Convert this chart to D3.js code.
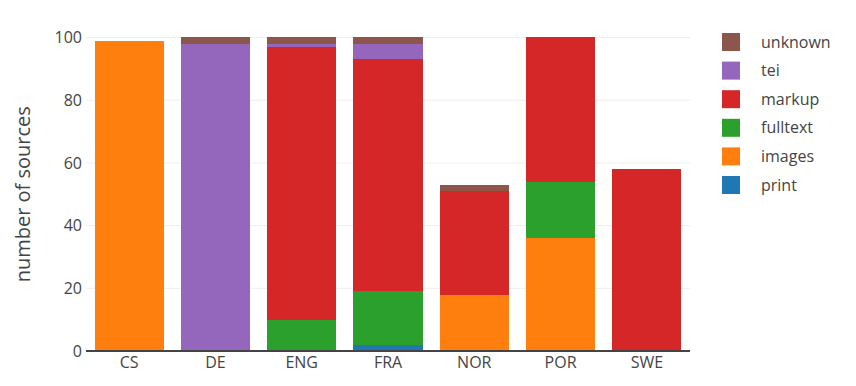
<!DOCTYPE html>
<html>
<head>
<meta charset="utf-8">
<script src="https://cdn.jsdelivr.net/npm/d3@7"></script>
<style>
  html, body { margin: 0; padding: 0; background: #fff; }
  svg { display: block; font-family: "Open Sans", sans-serif; }
</style>
</head>
<body>
<svg id="chart" width="856" height="386"></svg>
<script>
const categories = ["CS", "DE", "ENG", "FRA", "NOR", "POR", "SWE"];
const seriesNames = ["print", "images", "fulltext", "markup", "tei", "unknown"];
const print    = [0, 0, 0, 2, 0, 0, 0];
const images   = [99, 0, 0, 0, 18, 36, 0];
const fulltext = [0, 0, 10, 17, 0, 18, 0];
const markup   = [0, 0, 87, 74, 33, 46, 58];
const tei      = [0, 98, 1, 5, 0, 0, 0];
const unknown  = [0, 2, 2, 2, 2, 0, 0];
const yTicks = [0, 20, 40, 60, 80, 100];
const colors = ["#1f77b4", "#ff7f0e", "#2ca02c", "#d62728", "#9467bd", "#8c564b"];

const seriesValues = [print, images, fulltext, markup, tei, unknown];
const rows = categories.map((c, i) => {
  const r = { cat: c };
  seriesNames.forEach((s, j) => r[s] = seriesValues[j][i]);
  return r;
});

const svg = d3.select("#chart");
const margin = { left: 86, right: 166, top: 21, bottom: 35 };
const W = 856, H = 386;
const x = d3.scaleBand().domain(categories).range([margin.left, W - margin.right]).paddingInner(0.2).paddingOuter(0.1);
const y = d3.scaleLinear().domain([0, 105.26]).range([H - margin.bottom, margin.top]);
const color = d3.scaleOrdinal().domain(seriesNames).range(colors);

// gridlines
svg.append("g").selectAll("line").data(yTicks.filter(t => t > 0)).join("line")
  .attr("x1", margin.left).attr("x2", W - margin.right)
  .attr("y1", d => y(d)).attr("y2", d => y(d))
  .attr("stroke", "#eee").attr("stroke-width", 1);

const stack = d3.stack().keys(seriesNames)(rows);
svg.append("g").attr("shape-rendering", "crispEdges").selectAll("g").data(stack).join("g")
  .attr("fill", d => color(d.key))
  .selectAll("rect").data(d => d).join("rect")
  .attr("x", d => x(d.data.cat))
  .attr("width", x.bandwidth())
  .attr("y", d => y(d[1]))
  .attr("height", d => y(d[0]) - y(d[1]));

// zero line
svg.append("line")
  .attr("x1", margin.left).attr("x2", W - margin.right)
  .attr("y1", y(0)).attr("y2", y(0))
  .attr("stroke", "#444").attr("stroke-width", 2);

// y tick labels
const yAxis = d3.axisLeft(y).tickValues(yTicks).tickSize(0).tickPadding(4);
const ya = svg.append("g").attr("transform", `translate(${margin.left},0)`).call(yAxis);
ya.select(".domain").remove();
ya.selectAll("text").attr("font-size", 16).attr("fill", "#444").attr("font-family", "Open Sans");

// x tick labels
const xAxis = d3.axisBottom(x).tickSize(0).tickPadding(6);
const xa = svg.append("g").attr("transform", `translate(0,${y(0)})`).call(xAxis);
xa.select(".domain").remove();
xa.selectAll("text").attr("font-size", 16).attr("fill", "#444").attr("font-family", "Open Sans");

// axis title
svg.append("text")
  .attr("transform", `translate(30,${(y(0) + y(100)) / 2}) rotate(-90)`)
  .attr("text-anchor", "middle")
  .attr("font-size", 20).attr("fill", "#444")
  .text("number of sources");

// legend
const legendOrder = seriesNames.slice().reverse();
const lg = svg.append("g").selectAll("g").data(legendOrder).join("g")
  .attr("transform", (d, i) => `translate(722,${42 + i * 28.6})`);
lg.append("rect").attr("x", 0).attr("y", -9).attr("width", 18).attr("height", 18)
  .attr("fill", d => color(d));
lg.append("text").attr("x", 39).attr("y", 0).attr("dy", "0.35em")
  .attr("font-size", 16).attr("fill", "#444").text(d => d);
</script>
</body>
</html>
